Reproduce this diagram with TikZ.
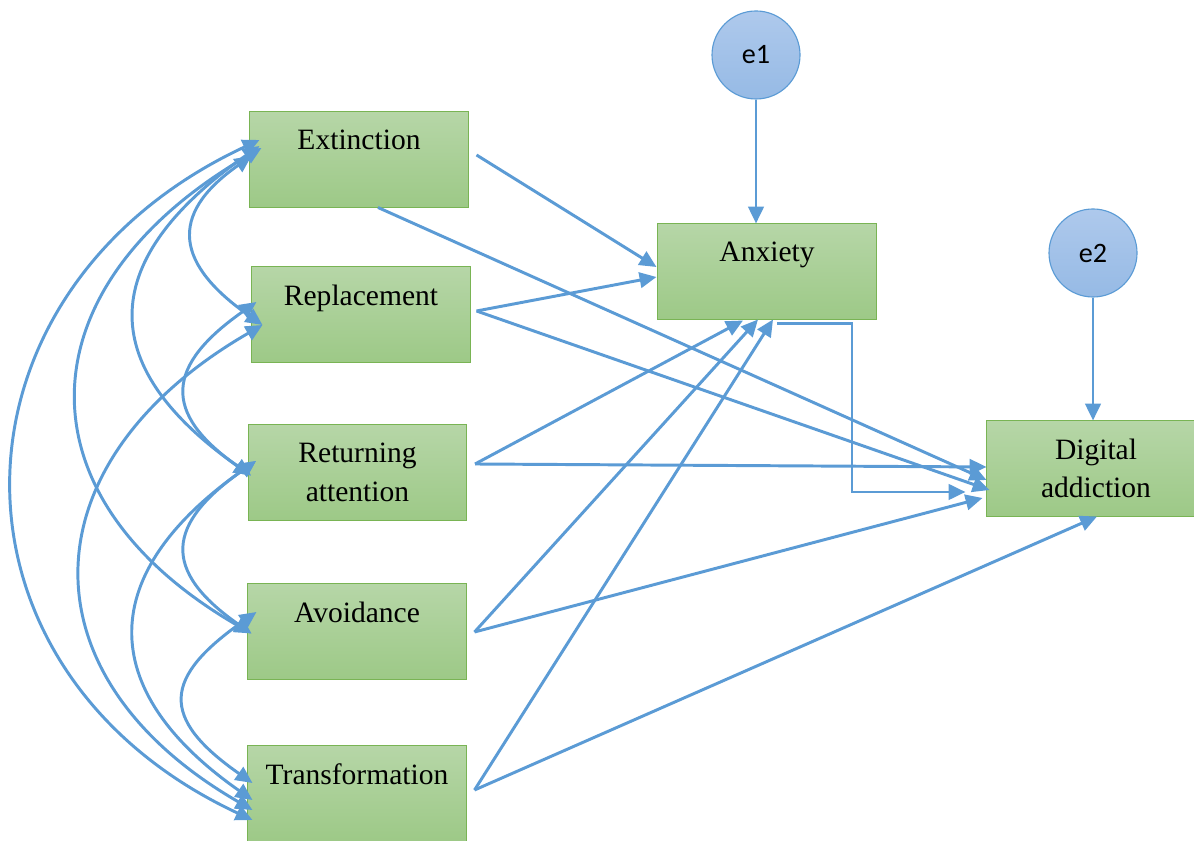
\documentclass[tikz,border=0pt]{standalone}
\usepackage{fontspec}
\setmainfont{Liberation Serif}
\newfontfamily\errfont{Carlito}
\usetikzlibrary{arrows.meta,calc}
\definecolor{boxtop}{RGB}{182,214,167}
\definecolor{boxbot}{RGB}{157,201,135}
\definecolor{boxline}{RGB}{121,180,84}
\definecolor{errtop}{RGB}{174,201,236}
\definecolor{errbot}{RGB}{150,186,229}
\definecolor{arrowblue}{RGB}{91,155,213}

\begin{document}
\begin{tikzpicture}[x=0.025cm,y=0.025cm,
    var/.style={rectangle, draw=boxline, line width=0.7pt, top color=boxtop, bottom color=boxbot,
        minimum width=5.45cm, minimum height=2.375cm, inner sep=0pt, align=center,
        font=\fontsize{21}{27.5}\selectfont},
    err/.style={circle, draw=arrowblue, line width=0.8pt, top color=errtop, bottom color=errbot,
        minimum size=2.2cm, inner sep=0pt, font=\errfont\fontsize{20}{24}\selectfont},
    effect/.style={arrowblue, line width=2.1pt, -{Triangle[length=12pt,width=11pt]}},
    corr/.style={arrowblue, line width=2.1pt, {Triangle[length=12pt,width=11pt]}-{Triangle[length=12pt,width=11pt]}}]

    \useasboundingbox (0,0) rectangle (1194,840);

    % observed variables
    \node[var] (ext) at (359,680.5) {Extinction\\\mbox{}};
    \node[var] (rep) at (361,525.5) {Replacement\\\mbox{}};
    \node[var] (ret) at (357.5,367.5) {Returning\\attention};
    \node[var] (avo) at (357,208.5) {Avoidance\\\mbox{}};
    \node[var] (tra) at (357,46.5) {Transformation\\\mbox{}};
    \node[var] (anx) at (767,568.5) {Anxiety\\\mbox{}};
    \node[var] (dig) at (1096,371.5) {Digital\\addiction};
    % error terms
    \node[err] (e1) at (756,785) {e1};
    \node[err] (e2) at (1093,587) {e2};

    \draw[effect] (e1.south) -- (e1.south |- anx.north);
    \draw[effect] (e2.south) -- (e2.south |- dig.north);

    % paths to anxiety
    \draw[effect] ($(ext.east)+(8,4.5)$) -- ($(anx.west)+(-1,4.5)$);
    \draw[effect] ($(rep.east)+(6,3.5)$) -- ($(anx.west)+(-1,-5.5)$);
    \draw[effect] ($(ret.east)+(8,8.5)$) -- ($(anx.south)+(-24,-1)$);
    \draw[effect] ($(avo.east)+(8,-0.5)$) -- ($(anx.south)+(-9,0)$);
    \draw[effect] ($(tra.east)+(8,3.5)$) -- ($(anx.south)+(6,0)$);

    % paths to digital addiction
    \draw[effect] ($(ext.south)+(19,0)$) -- ($(dig.west)+(0,-11.5)$);
    \draw[effect] ($(rep.east)+(6,3.5)$) -- ($(dig.west)+(3,-21.5)$);
    \draw[effect] ($(ret.east)+(8,8.5)$) -- ($(dig.west)+(0,1.5)$);
    \draw[effect] ($(avo.east)+(8,-0.5)$) -- ($(dig.west)+(-4,-29.5)$);
    \draw[effect] ($(tra.east)+(8,3.5)$) -- ($(dig.south)+(1,0)$);
    \draw[effect] ($(anx.south)+(10,-4)$) -- ++(75,0) |- ($(dig.west)+(-21,-23.5)$);

    % covariances
    \draw[corr] ($(ext.west)+(2,3.5)$) .. controls +(215:104) and +(145:104) .. ($(rep.west)+(11,-10.5)$);
    \draw[corr] ($(ext.west)+(10,13.5)$) .. controls +(215:195) and +(145:195) .. ($(ret.west)+(3,-3)$);
    \draw[corr] ($(ext.west)+(12,11.5)$) .. controls +(210:275) and +(150:275) .. ($(avo.west)+(4,-2)$);
    \draw[corr] ($(ext.west)+(10,19.5)$) .. controls +(205:357) and +(155:357) .. ($(tra.west)+(5,-26.5)$);
    \draw[corr] ($(rep.west)+(5,12.5)$) .. controls +(215:110) and +(145:110) .. ($(ret.west)+(3,-3)$);
    \draw[corr] ($(rep.west)+(11,-10.5)$) .. controls +(210:271) and +(150:271) .. ($(tra.west)+(5,-16.5)$);
    \draw[corr] ($(ret.west)+(8,11.5)$) .. controls +(215:110) and +(145:110) .. ($(avo.west)+(4,-2)$);
    \draw[corr] ($(ret.west)+(8,11.5)$) .. controls +(215:194) and +(145:194) .. ($(tra.west)+(5,-6.5)$);
    \draw[corr] ($(avo.west)+(9,19.5)$) .. controls +(215:114) and +(145:114) .. ($(tra.west)+(5,10.5)$);
\end{tikzpicture}
\end{document}
